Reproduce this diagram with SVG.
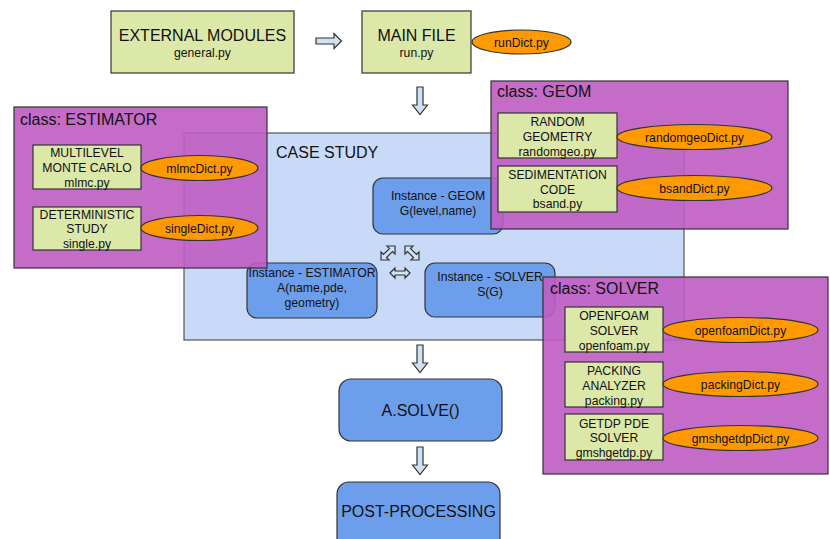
<svg xmlns="http://www.w3.org/2000/svg" width="830" height="539" viewBox="0 0 830 539">
<defs>
<style>
text{font-family:"Liberation Sans",Arial,sans-serif;fill:#111;text-anchor:middle}
.big{font-size:16px}
.mid{font-size:16px;text-anchor:start}
.sm{font-size:12.2px}
.green{fill:#dce8a8;stroke:#333;stroke-width:1.2}
.dict{fill:#ff9900;stroke:#333;stroke-width:1.2}
.inst{fill:#6d9eeb;stroke:#333;stroke-width:1.2}
.cls{fill:#bf5cc3;fill-opacity:0.9;stroke:#333;stroke-width:1.2}
.arr{fill:#cfe2f3;stroke:#333;stroke-width:1.2;stroke-linejoin:miter}
</style>
</defs>
<rect width="830" height="539" fill="#fff"/>

<g id="external">
<rect class="green" x="111" y="11" width="183" height="62"/>
<text class="big" x="202.5" y="41">EXTERNAL MODULES</text>
<text class="sm" x="202.5" y="57">general.py</text>
</g>
<g id="mainfile">
<rect class="green" x="362" y="11" width="109" height="62"/>
<text class="big" x="416.5" y="41">MAIN FILE</text>
<text class="sm" x="416.5" y="57">run.py</text>
</g>
<g id="runDict">
<ellipse class="dict" cx="521.5" cy="42" rx="49.5" ry="12"/>
<text class="sm" x="521.5" y="46.5">runDict.py</text>
</g>

<g id="casestudy">
<rect x="184" y="133" width="500" height="207" fill="#c9daf8" stroke="#555" stroke-width="1.2"/>
<text class="big" x="276" y="158" style="text-anchor:start">CASE STUDY</text>
</g>
<g id="inst-geom">
<rect class="inst" x="373" y="178" width="130" height="56" rx="10"/>
<text class="sm" x="438" y="200">Instance - GEOM</text>
<text class="sm" x="438" y="215">G(level,name)</text>
</g>
<g id="inst-estimator">
<rect class="inst" x="247" y="263" width="130" height="55" rx="10"/>
<text class="sm" x="312" y="277">Instance - ESTIMATOR</text>
<text class="sm" x="312" y="292">A(name,pde,</text>
<text class="sm" x="312" y="307">geometry)</text>
</g>
<g id="inst-solver">
<rect class="inst" x="425" y="263" width="130" height="54" rx="10"/>
<text class="sm" x="490" y="281">Instance - SOLVER</text>
<text class="sm" x="490" y="296">S(G)</text>
</g>

<g id="class-estimator">
<rect class="cls" x="14" y="107" width="253" height="161"/>
<text class="mid" x="20" y="125">class: ESTIMATOR</text>
<g id="mlmc">
<rect class="green" x="33" y="145" width="108" height="44"/>
<text class="sm" x="87" y="157">MULTILEVEL</text>
<text class="sm" x="87" y="172">MONTE CARLO</text>
<text class="sm" x="87" y="187">mlmc.py</text>
</g>
<g id="mlmcDict">
<ellipse class="dict" cx="199.5" cy="168" rx="58.5" ry="12.5"/>
<text class="sm" x="199.5" y="172.5">mlmcDict.py</text>
</g>
<g id="single">
<rect class="green" x="33" y="207" width="108" height="43"/>
<text class="sm" x="87" y="219">DETERMINISTIC</text>
<text class="sm" x="87" y="233">STUDY</text>
<text class="sm" x="87" y="248">single.py</text>
</g>
<g id="singleDict">
<ellipse class="dict" cx="199.5" cy="228" rx="58.5" ry="12.5"/>
<text class="sm" x="199.5" y="232.5">singleDict.py</text>
</g>
</g>

<g id="class-geom">
<rect class="cls" x="491" y="81" width="297" height="148"/>
<text class="mid" x="497" y="97">class: GEOM</text>
<g id="randomgeo">
<rect class="green" x="498" y="113" width="119" height="45"/>
<text class="sm" x="557.5" y="126">RANDOM</text>
<text class="sm" x="557.5" y="141">GEOMETRY</text>
<text class="sm" x="557.5" y="156">randomgeo.py</text>
</g>
<g id="randomgeoDict">
<ellipse class="dict" cx="694.5" cy="137" rx="77.5" ry="12.5"/>
<text class="sm" x="694.5" y="141.5">randomgeoDict.py</text>
</g>
<g id="bsand">
<rect class="green" x="498" y="166" width="119" height="46"/>
<text class="sm" x="557.5" y="179">SEDIMENTATION</text>
<text class="sm" x="557.5" y="194">CODE</text>
<text class="sm" x="557.5" y="208">bsand.py</text>
</g>
<g id="bsandDict">
<ellipse class="dict" cx="694.5" cy="188" rx="77.5" ry="12.5"/>
<text class="sm" x="694.5" y="192.5">bsandDict.py</text>
</g>
</g>

<g id="class-solver">
<rect class="cls" x="543" y="277" width="285" height="197"/>
<text class="mid" x="550" y="294">class: SOLVER</text>
<g id="openfoam">
<rect class="green" x="565" y="307" width="98" height="45"/>
<text class="sm" x="614" y="320">OPENFOAM</text>
<text class="sm" x="614" y="335">SOLVER</text>
<text class="sm" x="614" y="350">openfoam.py</text>
</g>
<g id="openfoamDict">
<ellipse class="dict" cx="740.5" cy="330" rx="77.5" ry="12.5"/>
<text class="sm" x="740.5" y="334.5">openfoamDict.py</text>
</g>
<g id="packing">
<rect class="green" x="565" y="362" width="98" height="45"/>
<text class="sm" x="614" y="375">PACKING</text>
<text class="sm" x="614" y="390">ANALYZER</text>
<text class="sm" x="614" y="405">packing.py</text>
</g>
<g id="packingDict">
<ellipse class="dict" cx="740.5" cy="384" rx="77.5" ry="12.5"/>
<text class="sm" x="740.5" y="388.5">packingDict.py</text>
</g>
<g id="gmshgetdp">
<rect class="green" x="565" y="414" width="98" height="46"/>
<text class="sm" x="614" y="428">GETDP PDE</text>
<text class="sm" x="614" y="442">SOLVER</text>
<text class="sm" x="614" y="457">gmshgetdp.py</text>
</g>
<g id="gmshgetdpDict">
<ellipse class="dict" cx="740.5" cy="438" rx="77.5" ry="12.5"/>
<text class="sm" x="740.5" y="442.5">gmshgetdpDict.py</text>
</g>
</g>

<g id="asolve">
<rect class="inst" x="339" y="379" width="163" height="62" rx="12"/>
<text class="big" x="420.5" y="416">A.SOLVE()</text>
</g>
<g id="postprocessing">
<rect class="inst" x="337" y="482" width="163" height="70" rx="12"/>
<text class="big" x="418.5" y="517">POST-PROCESSING</text>
</g>

<g id="connectors">
<path class="arr" d="M316,38 H334 V33.5 L341.5,41 L334,48.5 V44 H316 Z"/>
<path class="arr" d="M417,87 H423 V105 H427.5 L420,114.5 L412.5,105 H417 Z"/>
<path class="arr" d="M417,345 H423 V363 H427.5 L420,372.5 L412.5,363 H417 Z"/>
<path class="arr" d="M417,447 H423 V465 H427.5 L420,474.5 L412.5,465 H417 Z"/>
<path class="arr" d="M390,273 L395,268 V271 H405 V268 L410,273 L405,278 V275 H395 V278 Z"/>
<path class="arr" d="M381,260 L381,252 L383.5,254.5 L389.5,248.5 L387,246 L395,246 L395,254 L392.5,251.5 L386.5,257.5 L389,260 Z"/>
<path class="arr" d="M405,246 L413,246 L410.5,248.5 L416.5,254.5 L419,252 L419,260 L411,260 L413.5,257.5 L407.5,251.5 L405,254 Z"/>
</g>
</svg>
